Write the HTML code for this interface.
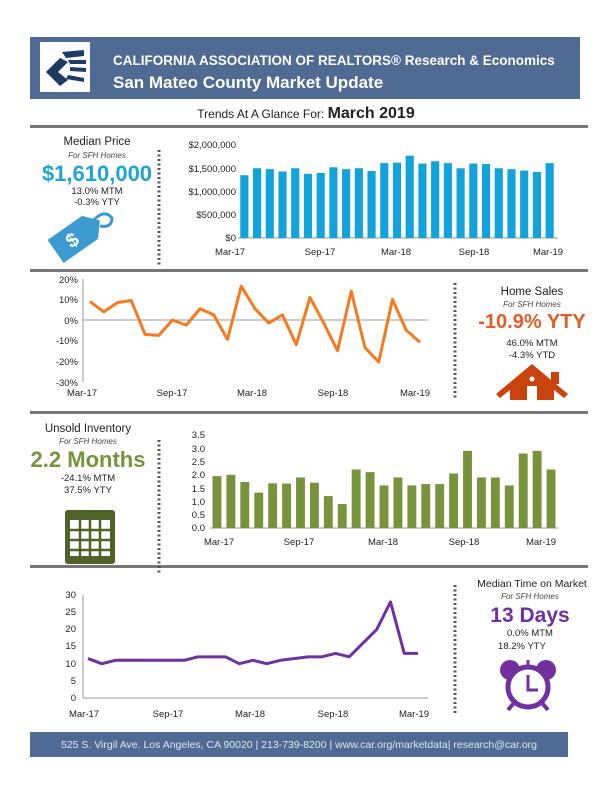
<!DOCTYPE html>
<html><head><meta charset="utf-8"><style>
body{margin:0;background:#fff}
svg{display:block;font-family:"Liberation Sans",sans-serif}
</style></head><body>
<svg width="612" height="792" viewBox="0 0 612 792" xmlns="http://www.w3.org/2000/svg">
<rect x="30" y="37" width="550" height="62" fill="#4f6a93"/>
<rect x="40" y="42" width="50" height="50" fill="#fff"/>
<g fill="#1f3a63">
<path d="M46 72 L60 58 L68 62 L58 72 L68 80 L60 86 Z"/>
<path d="M62 52 L84 50 L84 56 L66 58Z"/><path d="M68 60 L86 60 L86 64 L70 64Z"/><path d="M70 67 L86 68 L86 72 L70 71Z"/><path d="M68 75 L84 78 L84 82 L66 79Z"/>
</g>
<text x="113" y="65" fill="#fff" font-size="13.5" font-weight="bold">CALIFORNIA ASSOCIATION OF REALTORS® Research &amp; Economics</text>
<text x="113" y="88" fill="#fff" font-size="17" font-weight="bold">San Mateo County Market Update</text>
<text x="306" y="118" text-anchor="middle" font-size="12" fill="#222">Trends At A Glance For: <tspan font-size="16" font-weight="bold">March 2019</tspan></text>
<rect x="30" y="125" width="558" height="3" fill="#777"/>
<rect x="30" y="269" width="558" height="3" fill="#777"/>
<rect x="30" y="411" width="558" height="3" fill="#777"/>
<rect x="30" y="565" width="558" height="3" fill="#777"/>
<g stroke="#555" stroke-width="3" stroke-dasharray="2 2.5">
<line x1="159" y1="150" x2="159" y2="265"/>
<line x1="455" y1="283" x2="455" y2="400"/>
<line x1="159" y1="440" x2="159" y2="575"/>
<line x1="455" y1="585" x2="455" y2="715"/>
</g>
<g text-anchor="middle" fill="#222">
<text x="97" y="145" font-size="11.5">Median Price</text>
<text x="97" y="158" font-size="8" font-style="italic" fill="#444">For SFH Homes</text>
<text x="97" y="181" font-size="22" font-weight="bold" fill="#1fa3d8">$1,610,000</text>
<text x="97" y="194" font-size="9.5">13.0% MTM</text>
<text x="97" y="205" font-size="9.5">-0.3% YTY</text>
</g>
<g transform="translate(72,240) rotate(-35)"><path d="M-20 -14 L22 -14 L34 0 L22 14 L-20 14 Z" fill="#3b9bd1"/><text x="0" y="7" font-size="20" font-weight="bold" fill="#fff" text-anchor="middle">$</text></g>
<path d="M92 222 Q104 208 112 218 Q112 228 100 226" stroke="#3b9bd1" stroke-width="3" fill="none"/>
<g font-size="9.5" fill="#222" text-anchor="end">
<text x="236" y="148">$2,000,000</text><text x="236" y="172">$1,500,000</text><text x="236" y="195">$1,000,000</text><text x="236" y="218">$500,000</text><text x="236" y="241">$0</text>
</g>
<line x1="238" y1="238" x2="558" y2="238" stroke="#999"/>
<g fill="#12a2dc" id="b1"></g>
<g font-size="9.5" fill="#222" text-anchor="middle">
<text x="230" y="255">Mar-17</text><text x="320" y="255">Sep-17</text><text x="396" y="255">Mar-18</text><text x="474" y="255">Sep-18</text><text x="548" y="255">Mar-19</text>
</g>
<g font-size="9.5" fill="#222" text-anchor="end">
<text x="78" y="283">20%</text><text x="78" y="303">10%</text><text x="78" y="324">0%</text><text x="78" y="344">-10%</text><text x="78" y="365">-20%</text><text x="78" y="386">-30%</text>
</g>
<line x1="83" y1="279" x2="83" y2="382" stroke="#999"/>
<line x1="83" y1="320" x2="428" y2="320" stroke="#999"/>
<polyline id="l2" fill="none" stroke="#f47b20" stroke-width="3" stroke-linejoin="round"/>
<g font-size="9.5" fill="#222" text-anchor="middle">
<text x="82" y="396">Mar-17</text><text x="172" y="396">Sep-17</text><text x="252" y="396">Mar-18</text><text x="333" y="396">Sep-18</text><text x="415" y="396">Mar-19</text>
</g>
<g text-anchor="middle" fill="#222">
<text x="532" y="295" font-size="11.5">Home Sales</text>
<text x="532" y="307" font-size="8" font-style="italic" fill="#444">For SFH Homes</text>
<text x="532" y="328" font-size="20" font-weight="bold" fill="#e45d25">-10.9% YTY</text>
<text x="532" y="346" font-size="9.5">46.0% MTM</text>
<text x="532" y="358" font-size="9.5">-4.3% YTD</text>
</g>
<g fill="#c8440c">
<path d="M496 394 L532 364 L568 394 L564 398 L532 372 L500 398 Z"/>
<rect x="551" y="372" width="8" height="12"/>
<path d="M510 386 L532 370 L554 386 L554 400 L510 400 Z"/>
</g>
<rect x="527" y="386" width="10" height="14" fill="#fff"/><circle cx="532" cy="379" r="2.5" fill="#fff"/>
<g text-anchor="middle" fill="#222">
<text x="88" y="432" font-size="11.5">Unsold Inventory</text>
<text x="88" y="444" font-size="8" font-style="italic" fill="#444">For SFH Homes</text>
<text x="88" y="467" font-size="22" font-weight="bold" fill="#77933c">2.2 Months</text>
<text x="88" y="481" font-size="9.5">-24.1% MTM</text>
<text x="88" y="493" font-size="9.5">37.5% YTY</text>
</g>
<g>
<rect x="65" y="510" width="50" height="54" rx="3" fill="#4f6228"/>
<rect x="70" y="520" width="40" height="36" fill="#fff"/>
<g stroke="#4f6228" stroke-width="2.5"><line x1="70" y1="530" x2="110" y2="530"/><line x1="70" y1="540" x2="110" y2="540"/><line x1="70" y1="550" x2="110" y2="550"/><line x1="80" y1="520" x2="80" y2="556"/><line x1="90" y1="520" x2="90" y2="556"/><line x1="100" y1="520" x2="100" y2="556"/></g>
</g>
<g font-size="9.5" fill="#222" text-anchor="end">
<text x="205" y="438">3.5</text><text x="205" y="452">3.0</text><text x="205" y="465">2.5</text><text x="205" y="478">2.0</text><text x="205" y="492">1.5</text><text x="205" y="505">1.0</text><text x="205" y="518">0.5</text><text x="205" y="531">0.0</text>
</g>
<line x1="210" y1="528" x2="558" y2="528" stroke="#999"/>
<g fill="#77933c" id="b3"></g>
<g font-size="9.5" fill="#222" text-anchor="middle">
<text x="219" y="545">Mar-17</text><text x="299" y="545">Sep-17</text><text x="383" y="545">Mar-18</text><text x="464" y="545">Sep-18</text><text x="541" y="545">Mar-19</text>
</g>
<g font-size="9.5" fill="#222" text-anchor="end">
<text x="76" y="598">30</text><text x="76" y="615">25</text><text x="76" y="632">20</text><text x="76" y="649">15</text><text x="76" y="667">10</text><text x="76" y="684">5</text><text x="76" y="701">0</text>
</g>
<line x1="83" y1="595" x2="83" y2="698" stroke="#999"/>
<line x1="83" y1="698" x2="428" y2="698" stroke="#999"/>
<polyline id="l4" fill="none" stroke="#7030a0" stroke-width="3" stroke-linejoin="round"/>
<g font-size="9.5" fill="#222" text-anchor="middle">
<text x="84" y="717">Mar-17</text><text x="168" y="717">Sep-17</text><text x="250" y="717">Mar-18</text><text x="333" y="717">Sep-18</text><text x="414" y="717">Mar-19</text>
</g>
<g text-anchor="middle" fill="#222">
<text x="532" y="587" font-size="10.5">Median Time on Market</text>
<text x="530" y="599" font-size="8" font-style="italic" fill="#444">For SFH Homes</text>
<text x="530" y="622" font-size="21" font-weight="bold" fill="#7030a0">13 Days</text>
<text x="530" y="636" font-size="9.5">0.0% MTM</text>
<text x="522" y="649" font-size="9.5">18.2% YTY</text>
</g>
<g>
<circle cx="510" cy="670" r="10" fill="#7030a0"/><circle cx="546" cy="670" r="10" fill="#7030a0"/>
<circle cx="528" cy="687" r="20" fill="#fff" stroke="#7030a0" stroke-width="5"/>
<path d="M528 675 L528 690 L538 690" stroke="#7030a0" stroke-width="3" fill="none"/>
<line x1="514" y1="703" x2="508" y2="710" stroke="#7030a0" stroke-width="4"/><line x1="542" y1="703" x2="548" y2="710" stroke="#7030a0" stroke-width="4"/>
<line x1="528" y1="660" x2="528" y2="666" stroke="#7030a0" stroke-width="3"/>
</g>
<rect x="30" y="732" width="538" height="25" fill="#4f6a93"/>
<text x="299" y="748" text-anchor="middle" font-size="10.5" fill="#dfe6f0">525 S. Virgil Ave. Los Angeles, CA 90020 | 213-739-8200 | www.car.org/marketdata| research@car.org</text>
</svg>
<script>
var NS="http://www.w3.org/2000/svg";
function bars(id,vals,x0,x1,base,scale){var g=document.getElementById(id),s=(x1-x0)/vals.length;vals.forEach(function(v,i){var r=document.createElementNS(NS,"rect");var h=v*scale;r.setAttribute("x",x0+i*s+s*0.18);r.setAttribute("width",s*0.64);r.setAttribute("y",base-h);r.setAttribute("height",h);g.appendChild(r);});}
bars("b1",[1.35,1.5,1.48,1.43,1.5,1.38,1.4,1.52,1.48,1.5,1.44,1.61,1.62,1.77,1.6,1.65,1.61,1.5,1.6,1.59,1.5,1.48,1.45,1.42,1.61],238,556,238,46.5);
bars("b3",[1.95,2.0,1.73,1.33,1.68,1.67,1.9,1.7,1.2,0.9,2.2,2.1,1.6,1.9,1.6,1.65,1.65,2.05,2.9,1.9,1.9,1.6,2.8,2.9,2.2],210,558,528,26.6);
function line(id,vals,x0,step,y0,scale){var p=vals.map(function(v,i){return (x0+i*step)+","+(y0-v*scale)}).join(" ");document.getElementById(id).setAttribute("points",p);}
line("l2",[9,4,8.5,9.5,-7,-7.5,0,-2.5,5.5,2.5,-9.5,16.5,5.5,-1.5,2.5,-12,11,-1.5,-15,14,-13.5,-20.5,10,-5,-10.9],90,13.75,320,2.05);
line("l4",[11.5,10,11,11,11,11,11,11,12,12,12,10,11,10,11,11.5,12,12,13,12,16,20,28,13,13],88,13.75,698,3.43);
</script>
</body></html>
